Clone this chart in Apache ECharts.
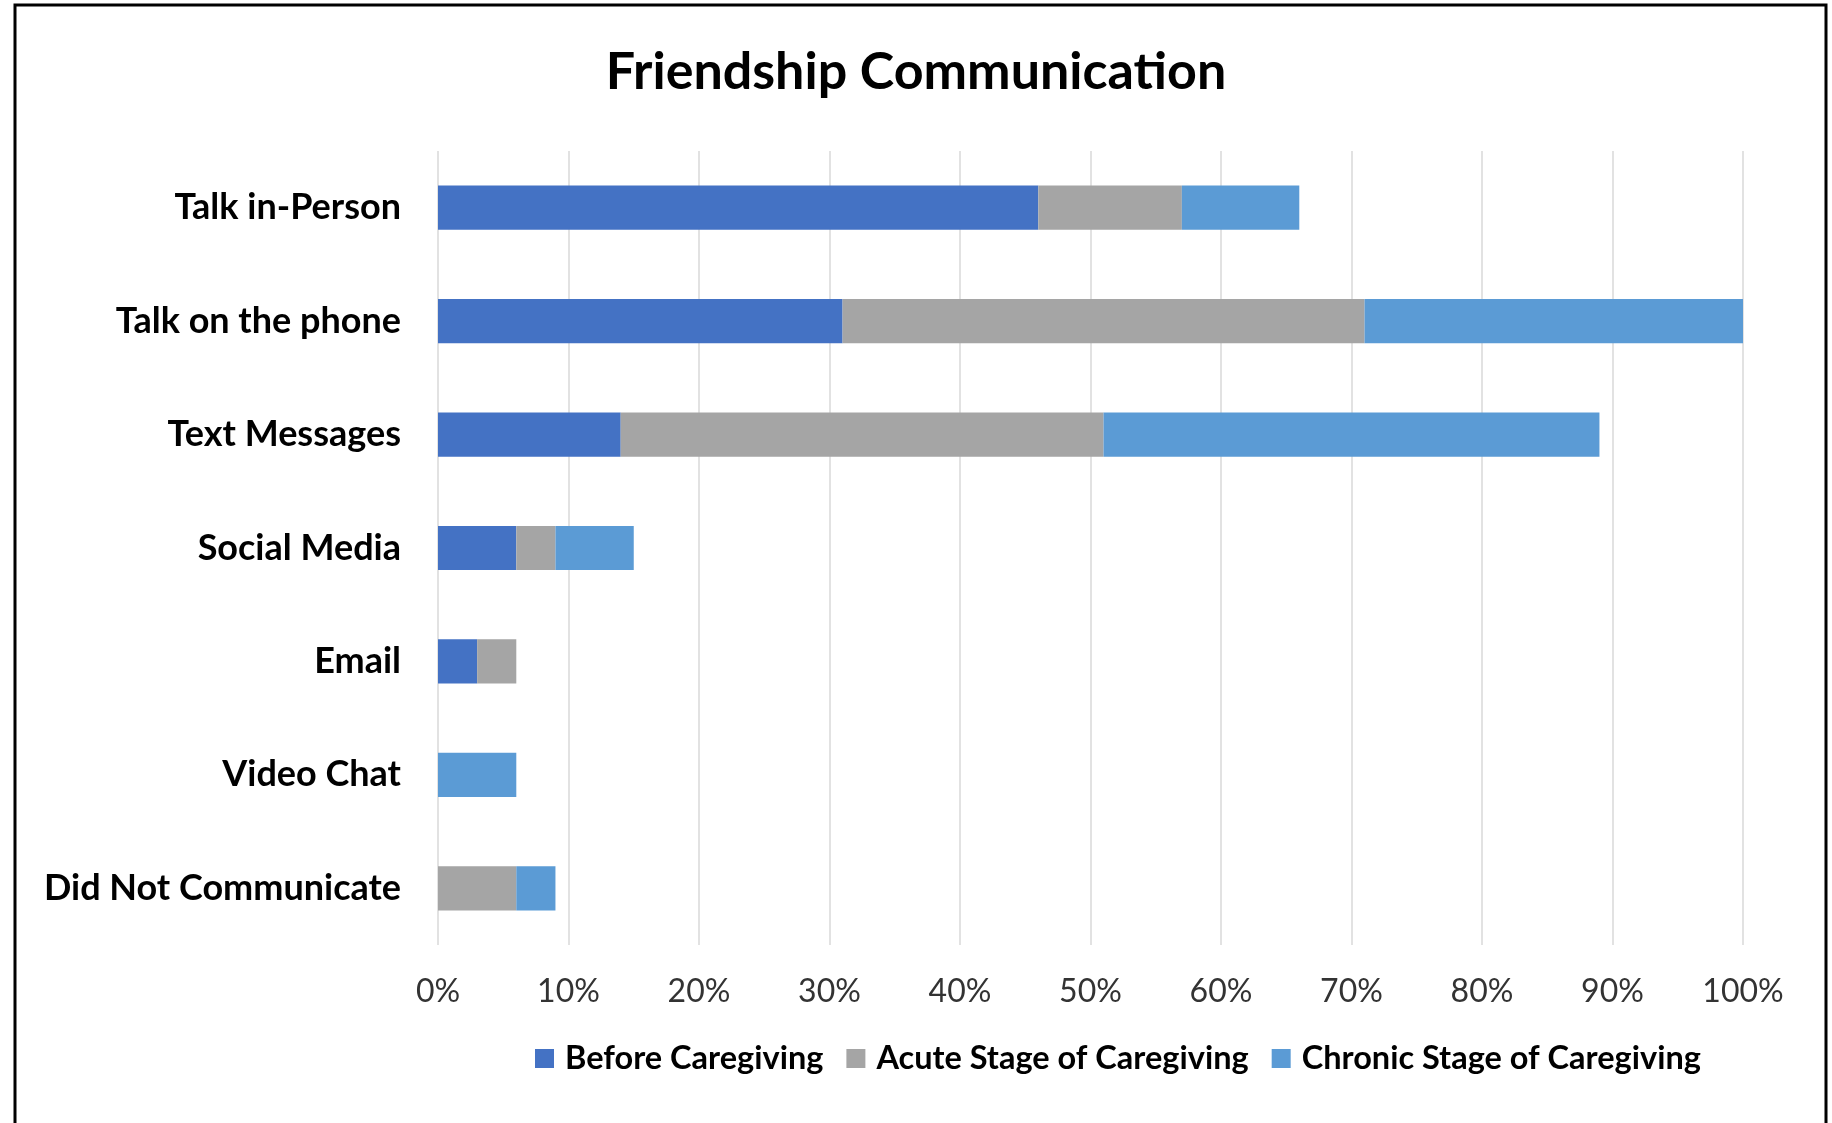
<!DOCTYPE html>
<html>
<head>
<meta charset="utf-8">
<script src="https://cdn.jsdelivr.net/npm/echarts@6/dist/echarts.min.js"></script>
<style>
html,body{margin:0;padding:0;background:#fff;}
#chart{width:1832px;height:1123px;}
</style>
</head>
<body>
<div id="chart"></div>
<script>
const categories = ['Talk in-Person','Talk on the phone','Text Messages','Social Media','Email','Video Chat','Did Not Communicate'];
const seriesNames = ['Before Caregiving','Acute Stage of Caregiving','Chronic Stage of Caregiving'];
const beforeValues = [46, 31, 14, 6, 3, 0, 0];
const acuteValues = [11, 40, 37, 3, 3, 0, 6];
const chronicValues = [9, 29, 38, 6, 0, 6, 3];
const xTicks = [0,10,20,30,40,50,60,70,80,90,100];
const colors = ['#4472C4','#A5A5A5','#5B9BD5'];

const FONT = 'Lato';
const chart = echarts.init(document.getElementById('chart'));
const dataSets = [beforeValues, acuteValues, chronicValues];
chart.setOption({
  animation: false,
  color: colors,
  title: {
    text: 'Friendship Communication',
    left: 'center',
    top: 41,
    textStyle: {fontFamily: FONT, fontWeight: 'bold', fontSize: 52, color: '#000'}
  },
  graphic: [{
    type: 'rect',
    shape: {x: 15, y: 5, width: 1811, height: 1200},
    style: {fill: 'none', stroke: '#000', lineWidth: 3},
    silent: true
  }],
  legend: {
    data: seriesNames,
    left: 530,
    top: 1037,
    itemWidth: 19,
    itemHeight: 19,
    itemGap: 23,
    icon: 'rect',
    textStyle: {fontFamily: FONT, fontWeight: 'bold', fontSize: 32.5, color: '#000', padding: [0,0,0,6]}
  },
  grid: {left: 438, right: 89, top: 151, bottom: 178, containLabel: false},
  xAxis: {
    type: 'value',
    min: xTicks[0],
    max: xTicks[xTicks.length-1],
    interval: 10,
    axisLine: {show: false},
    axisTick: {show: false},
    axisLabel: {formatter: '{value}%', fontFamily: FONT, fontSize: 32, color: '#333', margin: 31},
    splitLine: {show: true, lineStyle: {color: '#d9d9d9', width: 1.5}}
  },
  yAxis: {
    type: 'category',
    data: categories,
    inverse: true,
    axisLine: {show: false},
    axisTick: {show: false},
    axisLabel: {fontFamily: FONT, fontWeight: 'bold', fontSize: 36, color: '#000', margin: 37}
  },
  series: seriesNames.map((n, i) => ({
    name: n,
    type: 'bar',
    stack: 'total',
    barWidth: '39%',
    data: dataSets[i],
    itemStyle: {color: colors[i]}
  }))
});
</script>
</body>
</html>
